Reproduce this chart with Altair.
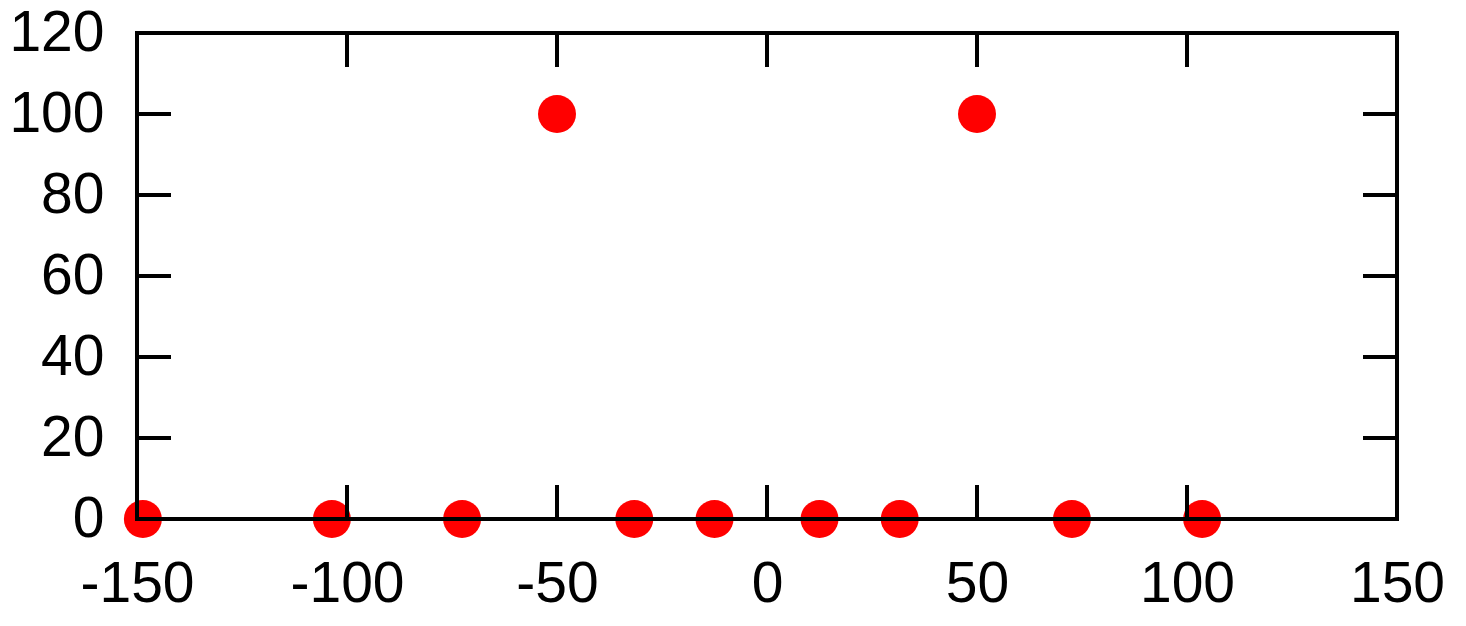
import altair as alt
import pandas as pd

# data
x_vals = [-148.6, -103.6, -72.6, -50, -31.6, -12.5, 12.5, 31.6, 50, 72.6, 103.6]
y_vals = [0, 0, 0, 100, 0, 0, 0, 0, 100, 0, 0]
x_ticks = [-150, -100, -50, 0, 50, 100, 150]
y_ticks = [0, 20, 40, 60, 80, 100, 120]

W, H = 1260, 486
TICK = 34
FONT = "Liberation Sans"
FS = 57

pts = pd.DataFrame({"x": x_vals, "y": y_vals})
xt = pd.DataFrame({"t": x_ticks})
yt = pd.DataFrame({"t": y_ticks})

xscale = alt.Scale(domain=[-150, 150], nice=False, zero=False)
yscale = alt.Scale(domain=[0, 120], nice=False, zero=False)

points = alt.Chart(pts).mark_circle(size=1444, color="#ff0000", opacity=1).encode(
    x=alt.X("x:Q", scale=xscale, axis=alt.Axis(
        values=x_ticks, title=None, ticks=False, tickSize=0, domain=False, grid=False,
        labelExpr="'' + datum.value",
        labelFont=FONT, labelFontSize=FS, labelColor="black", labelPadding=37,
        labelFlush=False, labelOverlap=False)),
    y=alt.Y("y:Q", scale=yscale, axis=alt.Axis(
        values=y_ticks, title=None, ticks=False, tickSize=0, domain=False, grid=False,
        labelExpr="'' + datum.value",
        labelFont=FONT, labelFontSize=FS, labelColor="black", labelPadding=33,
        labelFlush=False, labelOverlap=False)),
)

tick_style = dict(color="black", strokeWidth=4)
xt_top = alt.Chart(xt).mark_rule(**tick_style).encode(
    x=alt.X("t:Q", scale=xscale), y=alt.value(0), y2=alt.value(TICK))
xt_bot = alt.Chart(xt).mark_rule(**tick_style).encode(
    x=alt.X("t:Q", scale=xscale), y=alt.value(H - TICK), y2=alt.value(H))
yt_left = alt.Chart(yt).mark_rule(**tick_style).encode(
    y=alt.Y("t:Q", scale=yscale), x=alt.value(0), x2=alt.value(TICK))
yt_right = alt.Chart(yt).mark_rule(**tick_style).encode(
    y=alt.Y("t:Q", scale=yscale), x=alt.value(W - TICK), x2=alt.value(W))

frame = alt.Chart(pd.DataFrame({"a": [0]})).mark_rect(
    fillOpacity=0, stroke="black", strokeWidth=4).encode(
    x=alt.value(0), x2=alt.value(W), y=alt.value(0), y2=alt.value(H))

chart = alt.layer(points, xt_top, xt_bot, yt_left, yt_right, frame).properties(
    width=W, height=H,
    autosize=alt.AutoSizeParams(type="none"),
    padding={"left": 129, "top": 25, "right": 60, "bottom": 100},
).configure_view(stroke=None).configure(background="white")

chart.save("out.html", embed_options={"renderer": "svg", "actions": False})
